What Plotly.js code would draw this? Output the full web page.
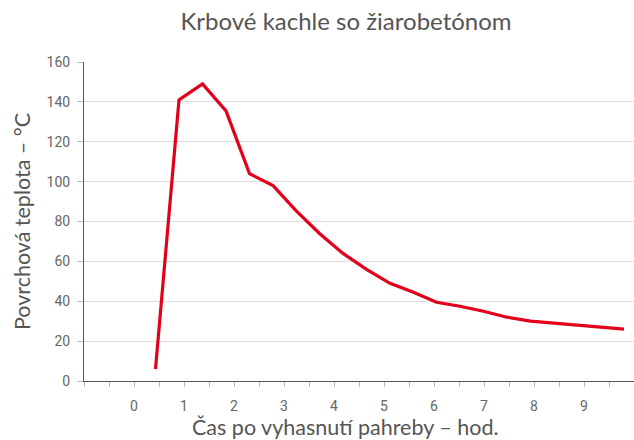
<!DOCTYPE html>
<html>
<head>
<meta charset="utf-8">
<script src="https://cdn.plot.ly/plotly-3.0.1.min.js"></script>
<style>html,body{margin:0;padding:0;background:#fff;}#chart{width:634px;height:440px;}</style>
</head>
<body>
<div id="chart"></div>
<script>
const hours = [0.43, 0.90, 1.37, 1.84, 2.31, 2.78, 3.24, 3.71, 4.18, 4.65, 5.12, 5.59, 6.05, 6.52, 6.99, 7.46, 7.93, 8.40, 8.86, 9.33, 9.80];
const temps = [6, 141, 149, 135.5, 104, 98, 85.5, 74, 64, 56, 49, 44.5, 39.5, 37.5, 35, 32, 30, 29, 28, 27, 26];
const xTickVals = [0, 1, 2, 3, 4, 5, 6, 7, 8, 9];
const xTickText = ['0', '1', '2', '3', '4', '5', '6', '7', '8', '9'];
const yTickVals = [0, 20, 40, 60, 80, 100, 120, 140, 160];

const tickFont = {family: 'Roboto, sans-serif', size: 14, color: '#666'};
const titleFont = {family: 'Lato, sans-serif', size: 21.5, color: '#555'};

Plotly.newPlot('chart', [{
  x: hours, y: temps, type: 'scatter', mode: 'lines',
  line: {color: '#e2001a', width: 3.2},
  hoverinfo: 'skip'
}], {
  width: 634, height: 440,
  margin: {l: 84, r: 0, t: 62, b: 59, pad: 0},
  paper_bgcolor: '#fff', plot_bgcolor: '#fff',
  showlegend: false,
  title: {text: 'Krbové kachle so žiarobetónom', font: {family: 'Lato, sans-serif', size: 24, color: '#555'},
          x: (346 - 84) / 550, xref: 'paper', xanchor: 'center', y: 0.95, yref: 'container', yanchor: 'middle'},
  xaxis: {
    range: [-1, 10], showgrid: false, zeroline: false,
    showline: true, linecolor: '#555', linewidth: 1,
    tickmode: 'array', tickvals: xTickVals, ticktext: xTickText,
    ticks: 'outside', ticklen: 5, tickcolor: '#bbb', tickwidth: 1,
    minor: {dtick: 0.5, tick0: -1, ticks: 'outside', ticklen: 5, tickcolor: '#bbb', tickwidth: 1, showgrid: false},
    tickfont: tickFont, ticklabelstandoff: 7,
    fixedrange: true
  },
  yaxis: {
    range: [0, 160], tickmode: 'array', tickvals: yTickVals,
    showgrid: true, gridcolor: '#ddd', gridwidth: 1, zeroline: false,
    showline: true, linecolor: '#555', linewidth: 1,
    ticks: 'outside', ticklen: 6, tickcolor: '#bbb', tickwidth: 1,
    tickfont: tickFont, ticklabelstandoff: 4,
    title: {text: 'Povrchová teplota – °C', font: titleFont, standoff: 10},
    fixedrange: true
  },
  annotations: [{
    text: 'Čas po vyhasnutí pahreby – hod.', font: titleFont, showarrow: false,
    xref: 'paper', yref: 'paper', x: (345 - 84) / 550, y: -0.143, xanchor: 'center', yanchor: 'middle'
  }]
}, {displayModeBar: false, staticPlot: true});
</script>
</body>
</html>
